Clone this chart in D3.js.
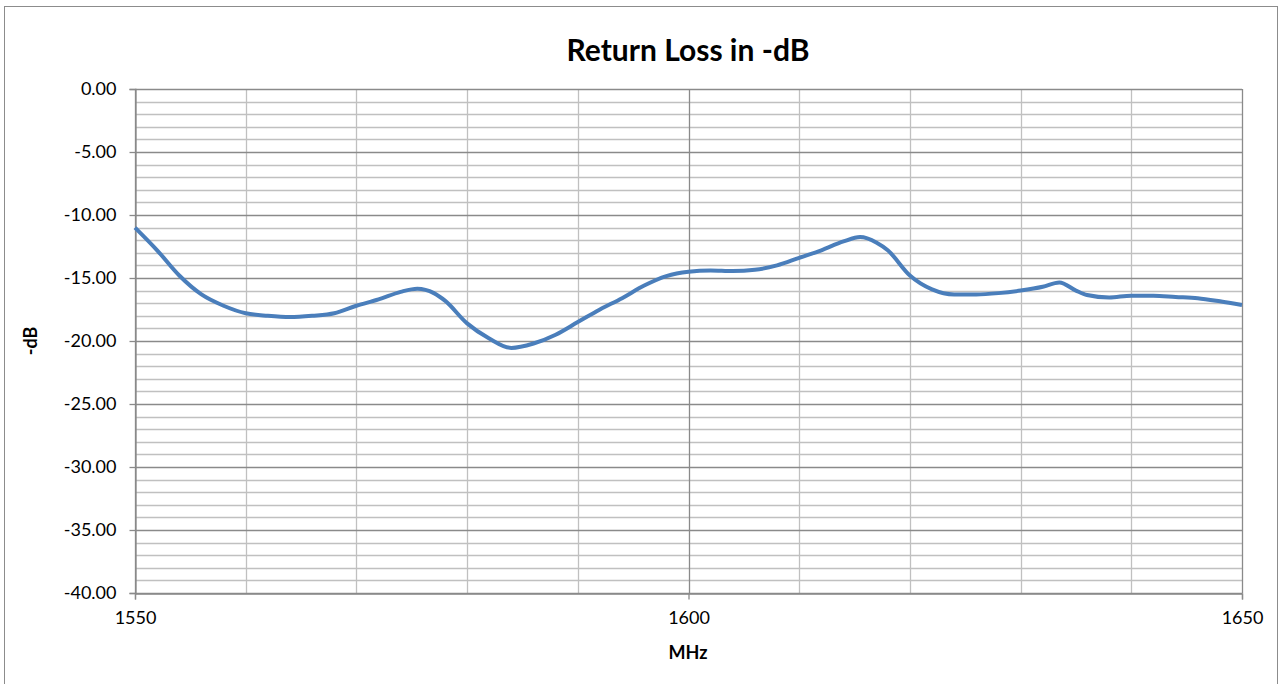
<!DOCTYPE html>
<html>
<head>
<meta charset="utf-8">
<script src="https://cdn.jsdelivr.net/npm/d3@7"></script>
<style>
  body { margin: 0; background: #fff; }
  svg { display: block; font-family: Lato, "Open Sans", sans-serif; }
</style>
</head>
<body>
<div id="chart"></div>
<script>
// frequency in MHz and return loss in -dB
const freq = [1550, 1552, 1554, 1556, 1558, 1560, 1562, 1564, 1566, 1568, 1570, 1572, 1574, 1575.5, 1577, 1578,
  1580, 1582, 1584, 1586, 1588, 1590, 1592, 1594, 1596, 1598, 1600, 1602, 1604, 1606, 1608, 1610, 1612, 1614,
  1615.5, 1617, 1618, 1620, 1622, 1624, 1626, 1628, 1630, 1632, 1633.5, 1635, 1636, 1638, 1640, 1642, 1644,
  1646, 1648, 1650];
const loss = [-11.0, -12.8, -14.8, -16.3, -17.2, -17.8, -18.0, -18.1, -18.0, -17.8, -17.2, -16.7, -16.1, -15.85, -16.2, -16.8,
  -18.6, -19.8, -20.55, -20.2, -19.5, -18.5, -17.5, -16.6, -15.6, -14.85, -14.5, -14.4, -14.45, -14.35, -14.0, -13.4, -12.8, -12.1,
  -11.75, -12.2, -12.8, -14.8, -15.9, -16.3, -16.3, -16.2, -16.0, -15.7, -15.35, -16.0, -16.35, -16.55, -16.4, -16.4, -16.5,
  -16.6, -16.85, -17.15];

const yTicks = [0, -5, -10, -15, -20, -25, -30, -35, -40];
const xTicks = [1550, 1600, 1650];

const width = 1283, height = 684;
const margin = { left: 135, right: 41, top: 89, bottom: 91 };

const svg = d3.select("#chart").append("svg")
  .attr("width", width)
  .attr("height", height);

// chart border
svg.append("rect")
  .attr("x", 4.5).attr("y", 6.5)
  .attr("width", 1273).attr("height", 680)
  .attr("fill", "none")
  .attr("stroke", "#8c8c8c")
  .attr("stroke-width", 1);

const x = d3.scaleLinear().domain([1550, 1650]).range([margin.left, width - margin.right]);
const y = d3.scaleLinear().domain([-40, 0]).range([height - margin.bottom, margin.top]);

// excel style labels, plain hyphen for the minus sign
const fmtY = d => d3.format(".2f")(d).replace("\u2212", "-");

// minor gridlines
const grid = svg.append("g");
grid.selectAll(".hmin")
  .data(d3.range(-39, 0, 1).filter(v => v % 5 !== 0))
  .join("line")
  .attr("x1", x(1550)).attr("x2", x(1650))
  .attr("y1", d => Math.round(y(d)) + 0.5).attr("y2", d => Math.round(y(d)) + 0.5)
  .attr("stroke", "#c0c0c0").attr("stroke-width", 1.3);
grid.selectAll(".vmin")
  .data(d3.range(1560, 1650, 10).filter(v => v !== 1600))
  .join("line")
  .attr("x1", d => Math.round(x(d)) + 0.5).attr("x2", d => Math.round(x(d)) + 0.5)
  .attr("y1", y(0)).attr("y2", y(-40))
  .attr("stroke", "#c0c0c0").attr("stroke-width", 1.3);

// major gridlines
grid.selectAll(".hmaj")
  .data(yTicks)
  .join("line")
  .attr("x1", x(1550)).attr("x2", x(1650))
  .attr("y1", d => Math.round(y(d)) + 0.5).attr("y2", d => Math.round(y(d)) + 0.5)
  .attr("stroke", "#8a8a8a").attr("stroke-width", 1.3);
grid.selectAll(".vmaj")
  .data(xTicks)
  .join("line")
  .attr("x1", d => Math.round(x(d)) + 0.5).attr("x2", d => Math.round(x(d)) + 0.5)
  .attr("y1", y(0)).attr("y2", y(-40))
  .attr("stroke", "#8a8a8a").attr("stroke-width", 1.3);

// axes
const yAxis = svg.append("g")
  .attr("transform", `translate(${Math.round(x(1550)) + 0.5},0)`)
  .call(d3.axisLeft(y).tickValues(yTicks).tickFormat(fmtY).tickSize(6).tickPadding(13));
const xAxis = svg.append("g")
  .attr("transform", `translate(0,${Math.round(y(-40)) + 0.5})`)
  .call(d3.axisBottom(x).tickValues(xTicks).tickFormat(d3.format("d")).tickSize(6).tickPadding(12));

[yAxis, xAxis].forEach(a => {
  a.select(".domain").attr("stroke", "#8a8a8a").attr("stroke-width", 1.3);
  a.selectAll(".tick line").attr("stroke", "#8a8a8a").attr("stroke-width", 1.3);
  a.selectAll(".tick text")
    .attr("fill", "#000")
    .attr("font-family", "Lato, sans-serif")
    .attr("font-size", 18);
});

// series
const pts = freq.map((f, i) => [f, loss[i]]);
svg.append("path")
  .datum(pts)
  .attr("fill", "none")
  .attr("stroke", "#4a7ebb")
  .attr("stroke-width", 4)
  .attr("stroke-linejoin", "round")
  .attr("d", d3.line().x(d => x(d[0])).y(d => y(d[1])).curve(d3.curveMonotoneX));

// titles
svg.append("text")
  .attr("x", 688).attr("y", 61)
  .attr("text-anchor", "middle")
  .attr("font-size", 30).attr("font-weight", "bold")
  .text("Return Loss in -dB");

svg.append("text")
  .attr("x", 688).attr("y", 659)
  .attr("text-anchor", "middle")
  .attr("font-size", 18).attr("font-weight", "bold")
  .text("MHz");

svg.append("text")
  .attr("transform", `translate(37,${y(-20)}) rotate(-90)`)
  .attr("text-anchor", "middle")
  .attr("font-size", 18).attr("font-weight", "bold")
  .text("-dB");
</script>
</body>
</html>
